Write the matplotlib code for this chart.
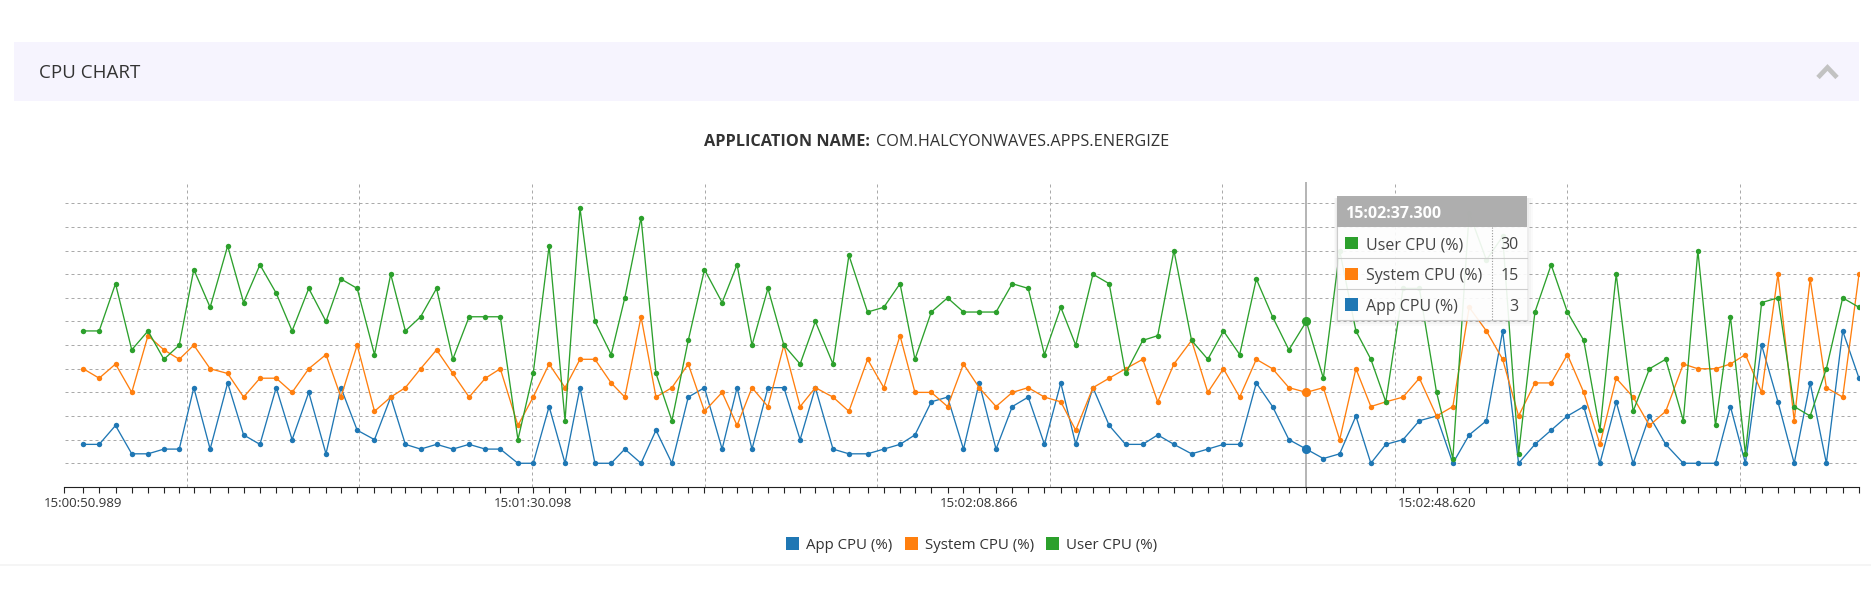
import matplotlib
matplotlib.use("Agg")
import matplotlib.pyplot as plt
from matplotlib.patches import Rectangle
from matplotlib.lines import Line2D

plt.rcParams["font.family"] = ["Open Sans", "DejaVu Sans"]

W, H = 1871, 589

# sample times, seconds after 15:00:00
times = [50.989, 52.374, 53.794, 55.205, 56.617, 58.002, 59.335, 60.599, 62.019, 63.543,
         64.928, 66.348, 67.760, 69.145, 70.591, 72.089, 73.387, 74.799, 76.305, 77.716,
         78.989, 80.314, 81.699, 83.110, 84.530, 85.941, 87.240, 88.773, 90.098, 91.483,
         92.868, 94.167, 95.465, 96.876, 98.063, 99.474, 100.773, 102.158, 103.578, 104.989,
         106.521, 107.820, 109.119, 110.504, 111.889, 113.301, 114.625, 116.158, 117.543, 119.162,
         120.573, 121.985, 123.283, 124.703, 126.115, 127.500, 128.866, 130.331, 131.742, 133.128,
         134.539, 135.959, 137.257, 138.755, 140.166, 141.586, 143.084, 144.383, 145.794, 147.327,
         148.738, 150.097, 151.508, 152.954, 154.366, 155.786, 157.300, 158.781, 160.201, 161.612,
         162.911, 164.210, 165.708, 167.128, 168.620, 170.037, 171.457, 172.954, 174.366, 175.751,
         177.171, 178.582, 179.993, 181.413, 182.824, 184.236, 185.708, 187.128, 188.539, 190.071,
         191.335, 192.868, 194.166, 195.465, 196.876, 198.296, 199.708, 201.093, 202.504, 203.924,
         205.340]

app_cpu = [4, 4, 8, 2, 2, 3, 3, 16, 3, 17, 6, 4, 16, 5, 15, 2, 16, 7, 5, 14, 4, 3, 4, 3, 4, 3, 3, 0,
           0, 12, 0, 16, 0, 0, 3, 0, 7, 0, 14, 16, 3, 16, 3, 16, 16, 5, 16, 3, 2, 2, 3, 4, 6, 13, 14, 3,
           17, 3, 12, 14, 4, 17, 4, 16, 8, 4, 4, 6, 4, 2, 3, 4, 4, 17, 12, 5, 3, 1, 2, 10, 0, 4, 5, 9,
           10, 0, 6, 9, 28, 0, 4, 7, 10, 12, 0, 13, 0, 10, 4, 0, 0, 0, 12, 0, 25, 13, 0, 17, 0, 28, 18]
system_cpu = [20, 18, 21, 15, 27, 24, 22, 25, 20, 19, 14, 18, 18, 15, 20, 23, 14, 25, 11, 14, 16, 20, 24, 19, 14, 18, 20, 8,
              14, 21, 16, 22, 22, 17, 14, 31, 14, 16, 21, 11, 15, 8, 16, 12, 25, 12, 16, 14, 11, 22, 16, 27, 15, 15, 12, 21,
              16, 12, 15, 16, 14, 13, 7, 16, 18, 20, 22, 13, 21, 26, 15, 20, 14, 22, 20, 16, 15, 16, 5, 20, 12, 13, 14, 18,
              10, 12, 33, 28, 22, 10, 17, 17, 23, 15, 4, 18, 14, 8, 11, 21, 20, 20, 21, 23, 15, 40, 9, 39, 16, 14, 40]
user_cpu = [28, 28, 38, 24, 28, 22, 25, 41, 33, 46, 34, 42, 36, 28, 37, 30, 39, 37, 23, 40, 28, 31, 37, 22, 31, 31, 31, 5,
            19, 46, 9, 54, 30, 23, 35, 52, 19, 9, 26, 41, 34, 42, 25, 37, 25, 21, 30, 21, 44, 32, 33, 38, 22, 32, 35, 32,
            32, 32, 38, 37, 23, 33, 25, 40, 38, 19, 26, 27, 45, 26, 22, 28, 23, 39, 31, 24, 30, 18, 45, 28, 22, 13, 37, 37,
            15, 1, 53, 43, 48, 2, 32, 42, 32, 26, 7, 40, 11, 20, 22, 9, 45, 8, 31, 2, 34, 35, 12, 10, 20, 35, 33]

series_names = ["App CPU (%)", "System CPU (%)", "User CPU (%)"]
colors = ["#1f77b4", "#ff7f0e", "#2ca02c"]
label_idx = [0, 28, 56, 84]      # ticks that carry a label
hover_idx = 76                   # point shown in the tooltip
app_name = "COM.HALCYONWAVES.APPS.ENERGIZE"


def fmt(t):
    m = int(t // 60)
    return f"15:{m:02d}:{t - 60 * m:06.3f}"


def fx(px):
    return px / W


def fy(py):
    return 1 - py / H


fig = plt.figure(figsize=(W / 100, H / 100), dpi=100)
fig.patch.set_facecolor("white")

# panel header
fig.add_artist(Rectangle((fx(14), fy(101)), fx(1859) - fx(14), fy(41.7) - fy(101),
                         transform=fig.transFigure, color="#f6f4fe", lw=0, zorder=0))
fig.text(fx(39), fy(78.3), "CPU CHART", fontsize=13.5, color="#333333", va="baseline")
fig.add_artist(Line2D([fx(1818), fx(1827.5), fx(1837)], [fy(77.5), fy(67.5), fy(77.5)],
                      transform=fig.transFigure, color="#c2c2c2", lw=3.4,
                      solid_joinstyle="miter", solid_capstyle="butt"))
fig.add_artist(Line2D([0, 1], [fy(565), fy(565)], transform=fig.transFigure,
                      color="#f3f3f3", lw=1.2))

fig.text(fx(870), fy(145.7), "APPLICATION NAME:", fontsize=11.7, fontweight="bold",
         color="#333333", ha="right", va="baseline")
fig.text(fx(876), fy(145.7), app_name, fontsize=11.7, color="#333333",
         ha="left", va="baseline")

# chart area
ax_top, ax_bot = 181.6, 486.9
ax = fig.add_axes([fx(64.5), fy(ax_bot), fx(1859) - fx(64.5), fy(ax_top) - fy(ax_bot)])
ax.patch.set_visible(False)
x_lo, x_hi = 49.36, 204.73
ax.set_xlim(x_lo, x_hi)
ax.set_ylim(-5, 59.6)

for v in range(-5, 56, 5):
    ax.axhline(v, color="#aaaaaa", lw=0.72, ls=(0, (3, 3)), zorder=0)
for t in range(60, 205, 15):
    ax.axvline(t, color="#aaaaaa", lw=0.72, ls=(0, (3, 3)), zorder=0)

ax.axvline(times[hover_idx], color="#a0a0a0", lw=1.1, zorder=1)

for vals, c in zip([app_cpu, system_cpu, user_cpu], colors):
    ax.plot(times, vals, color=c, lw=0.95, marker="o", ms=3.9, mew=0, zorder=3)
    ax.plot(times[hover_idx], vals[hover_idx], "o", color=c, ms=6.6, mew=0, zorder=4)

for s in ["left", "right", "top"]:
    ax.spines[s].set_visible(False)
ax.spines["bottom"].set_color("#222222")
ax.spines["bottom"].set_linewidth(0.8)
ax.set_yticks([])
ax.set_xticks(times)
ax.set_xticklabels([fmt(t) if i in label_idx else "" for i, t in enumerate(times)])
ax.set_xticks([x_lo], minor=True)
ax.tick_params(axis="x", which="both", length=4.6, width=0.8, color="#222222",
               pad=2.5, labelsize=9.5, labelcolor="#333333")

# tooltip
tl, tr, tt, tb = 1337.3, 1527.3, 196, 320
for k, a in [(6, 0.035), (4, 0.04), (2, 0.05)]:
    fig.add_artist(Rectangle((fx(tl - k / 2), fy(tb + k)), fx(tr + k) - fx(tl - k / 2),
                             fy(tt + 2) - fy(tb + k), transform=fig.transFigure,
                             color="#777777", alpha=a, lw=0, zorder=5))
fig.add_artist(Rectangle((fx(tl), fy(tb)), fx(tr) - fx(tl), fy(tt) - fy(tb),
                         transform=fig.transFigure, facecolor="white", alpha=0.9,
                         edgecolor="none", zorder=6))
fig.add_artist(Rectangle((fx(tl), fy(227.3)), fx(tr) - fx(tl), fy(tt) - fy(227.3),
                         transform=fig.transFigure, facecolor="#a8a8a8", alpha=0.92,
                         edgecolor="none", zorder=7))
fig.text(fx(1345), fy(218.3), fmt(times[hover_idx]), fontsize=11.5, fontweight="bold",
         color="white", va="baseline", zorder=8)
rows = [(series_names[2], user_cpu, colors[2]),
        (series_names[1], system_cpu, colors[1]),
        (series_names[0], app_cpu, colors[0])]
row_h = (tb - 227.3) / 3
for r, (name, vals, c) in enumerate(rows):
    top = 227.3 + r * row_h
    fig.add_artist(Line2D([fx(tl), fx(tr)], [fy(top + row_h), fy(top + row_h)],
                          transform=fig.transFigure, color="#cccccc", lw=0.8, zorder=8))
    fig.add_artist(Rectangle((fx(1345), fy(top + 22)), fx(1357.6) - fx(1345), fy(top + 9.4) - fy(top + 22),
                             transform=fig.transFigure, color=c, lw=0, zorder=8))
    fig.text(fx(1365.7), fy(top + 21.7), name, fontsize=11.5, color="#444444",
             va="baseline", zorder=8)
    fig.text(fx(1518.5), fy(top + 21.7), str(vals[hover_idx]), fontsize=11.5,
             color="#444444", ha="right", va="baseline", zorder=8)
fig.add_artist(Line2D([fx(tl), fx(tl)], [fy(227.3), fy(tb)], transform=fig.transFigure,
                      color="#cccccc", lw=0.8, zorder=8))
fig.add_artist(Line2D([fx(1492.3), fx(1492.3)], [fy(227.3), fy(tb)], transform=fig.transFigure,
                      color="#999999", lw=0.8, ls=(0, (1, 1.5)), zorder=8))

# legend
leg_sq = [786.3, 905.0, 1046.4]
for name, c, x0 in zip(series_names, colors, leg_sq):
    fig.add_artist(Rectangle((fx(x0), fy(549.5)), fx(x0 + 12.5) - fx(x0), fy(537) - fy(549.5),
                             transform=fig.transFigure, color=c, lw=0))
    fig.text(fx(x0 + 20), fy(548.8), name, fontsize=10.8, color="#333333", va="baseline")

fig.savefig("out.png", dpi=100)
